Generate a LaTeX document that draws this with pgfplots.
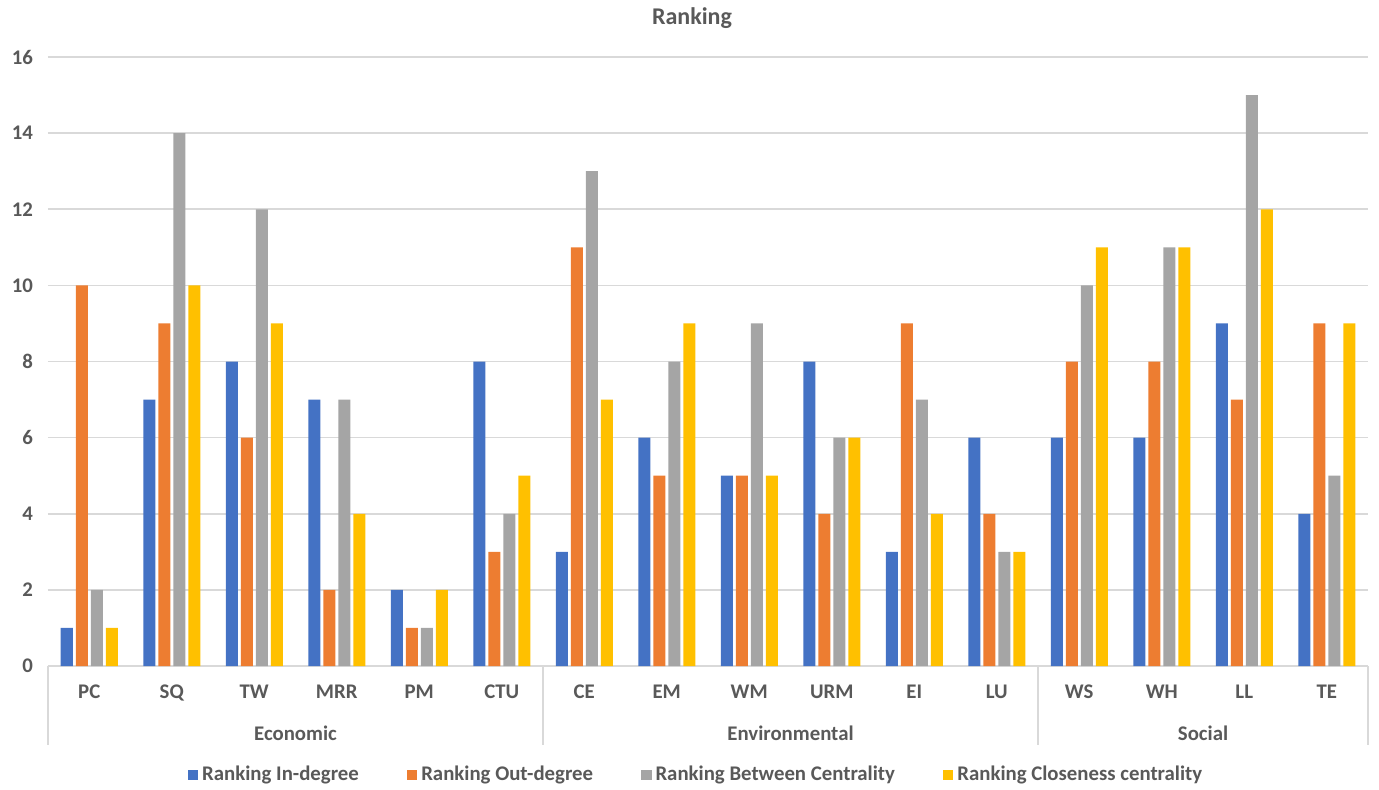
\documentclass[border=0pt]{standalone}
\usepackage{pgfplots}
\pgfplotsset{compat=1.18}
\usepackage{fontspec}
\setmainfont{Carlito}
\definecolor{txt}{HTML}{595959}
\definecolor{grd}{HTML}{D9D9D9}
\definecolor{cA}{HTML}{4472C4}
\definecolor{cB}{HTML}{ED7D31}
\definecolor{cC}{HTML}{A5A5A5}
\definecolor{cD}{HTML}{FFC000}
\newcommand\lf{\bfseries\fontsize{10.4}{12}\selectfont}
\begin{document}
\begin{tikzpicture}
\useasboundingbox (-24pt,-61.5pt) rectangle (665.5pt,333pt);
\begin{axis}[
  at={(0,0)}, anchor=south west,
  scale only axis, width=660pt, height=304.5pt,
  ybar=1.5pt, bar width=6pt,
  xmin=-0.5, xmax=15.5, ymin=0, ymax=16,
  xtick={0,...,15},
  xticklabels={PC,SQ,TW,MRR,PM,CTU,CE,EM,WM,URM,EI,LU,WS,WH,LL,TE},
  ytick={0,2,...,16},
  major tick length=0pt,
  ymajorgrids, grid style={grd, line width=0.8pt},
  axis lines*=left,
  x axis line style={grd, line width=0.8pt, -},
  y axis line style={draw=none},
  xticklabel style={font=\lf, text=txt, yshift=-6pt},
  yticklabel style={font=\lf, text=txt, xshift=-4pt},
  /pgf/number format/assume math mode=true,
  clip=false,
  legend columns=4,
  legend style={at={(0.5,0)}, anchor=center, xshift=-5.5pt, yshift=-54.5pt, draw=none,
    font=\lf, text=txt,
    /tikz/every even column/.append style={column sep=22pt}},
  legend image code/.code={\fill[#1,draw=none] (0pt,-2.6pt) rectangle (5.2pt,2.6pt);},
]
\addplot[fill=cA, draw=none] coordinates {(0,1)(1,7)(2,8)(3,7)(4,2)(5,8)(6,3)(7,6)(8,5)(9,8)(10,3)(11,6)(12,6)(13,6)(14,9)(15,4)};
\addplot[fill=cB, draw=none] coordinates {(0,10)(1,9)(2,6)(3,2)(4,1)(5,3)(6,11)(7,5)(8,5)(9,4)(10,9)(11,4)(12,8)(13,8)(14,7)(15,9)};
\addplot[fill=cC, draw=none] coordinates {(0,2)(1,14)(2,12)(3,7)(4,1)(5,4)(6,13)(7,8)(8,9)(9,6)(10,7)(11,3)(12,10)(13,11)(14,15)(15,5)};
\addplot[fill=cD, draw=none] coordinates {(0,1)(1,10)(2,9)(3,4)(4,2)(5,5)(6,7)(7,9)(8,5)(9,6)(10,4)(11,3)(12,11)(13,11)(14,12)(15,9)};
\legend{Ranking In-degree, Ranking Out-degree, Ranking Between Centrality, Ranking Closeness centrality}
\foreach \xx in {-0.5,5.5,11.5,15.5} {
  \edef\tmp{\noexpand\draw[grd, line width=0.8pt] (axis cs:\xx,0) -- ++(0pt,-39.5pt);}
  \tmp
}
\node[font=\lf, text=txt] at ([yshift=-33.5pt]axis cs:2.5,0) {Economic};
\node[font=\lf, text=txt] at ([yshift=-33.5pt]axis cs:8.5,0) {Environmental};
\node[font=\lf, text=txt] at ([yshift=-33.5pt]axis cs:13.5,0) {Social};
\node[font=\bfseries\fontsize{12}{14}\selectfont, text=txt] at ([xshift=-8pt,yshift=19.5pt]rel axis cs:0.5,1) {Ranking};
\end{axis}
\end{tikzpicture}
\end{document}
